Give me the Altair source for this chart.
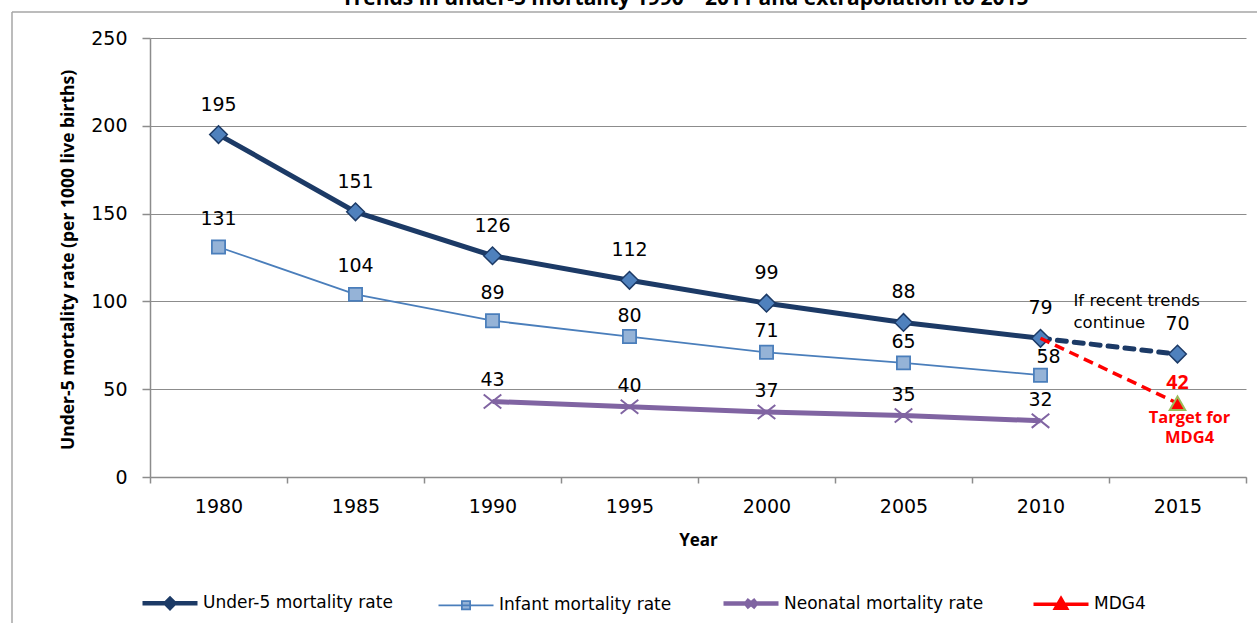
import altair as alt
import pandas as pd

# ---- values ----
years = ["1980", "1985", "1990", "1995", "2000", "2005", "2010", "2015"]

u5_years = ["1980", "1985", "1990", "1995", "2000", "2005", "2010"]
u5_rate = [195, 151, 126, 112, 99, 88, 79]

trend_years = ["2010", "2015"]
trend_rate = [79, 70]

inf_years = ["1980", "1985", "1990", "1995", "2000", "2005", "2010"]
inf_rate = [131, 104, 89, 80, 71, 65, 58]

neo_years = ["1990", "1995", "2000", "2005", "2010"]
neo_rate = [43, 40, 37, 35, 32]

mdg_years = ["2010", "2015"]
mdg_rate = [79, 42]

S_U5 = "Under-5 mortality rate"
S_INF = "Infant mortality rate"
S_NEO = "Neonatal mortality rate"
S_MDG = "MDG4"
series = [S_U5, S_INF, S_NEO, S_MDG]

title_text = "Trends in under-5 mortality 1990 \u2013 2011 and extrapolation to 2015"
y_title = "Under-5 mortality rate (per 1000 live births)"

# ---- tables ----
u5 = pd.DataFrame({"year": u5_years, "rate": u5_rate})
trend = pd.DataFrame({"year": trend_years, "rate": trend_rate})
inf = pd.DataFrame({"year": inf_years, "rate": inf_rate})
neo = pd.DataFrame({"year": neo_years, "rate": neo_rate})
mdg = pd.DataFrame({"year": mdg_years, "rate": mdg_rate})

u5_all = pd.concat([u5, trend.iloc[1:]], ignore_index=True)
mdg_target = mdg.iloc[1:]

# ---- styling ----
NAVY = "#1c3a66"
MID = "#4f81bd"
BLUE = "#4a7ebb"
LIGHT = "#95b3d7"
PURPLE = "#8064a2"
RED = "#ff0000"
GREEN = "#9bbb59"
GRID = "#8c8c8c"
FONT = "DejaVu Sans"
BOLD_FONT = "Open Sans"

W, H = 1096, 439

x_enc = alt.X(
    "year:O",
    bandPosition=0.5,
    scale=alt.Scale(type="band", domain=years, paddingInner=0, paddingOuter=0),
    axis=alt.Axis(
        title="Year", tickBand="extent", grid=False,
        domainColor=GRID, domainWidth=1.5, tickColor=GRID, tickWidth=1.5, tickSize=6,
        labelFont=FONT, labelFontSize=19, labelColor="black", labelPadding=14, labelAngle=0,
        titleFont=BOLD_FONT, titleFontSize=17, titleFontWeight="bold", titleColor="black",
        titleY=63, titleBaseline="middle",
    ),
)
y_enc = alt.Y(
    "rate:Q",
    scale=alt.Scale(domain=[0, 250], nice=False),
    axis=alt.Axis(
        title=y_title, values=[0, 50, 100, 150, 200, 250],
        grid=True, gridColor=GRID, gridWidth=1,
        domainColor=GRID, domainWidth=1.5, tickColor=GRID, tickWidth=1.5, tickSize=8,
        labelFont=FONT, labelFontSize=19, labelColor="black", labelPadding=15,
        titleFont=BOLD_FONT, titleFontSize=17.5, titleFontWeight="bold", titleColor="black",
        titleAngle=270, titleX=-82, titleY=H / 2 + 2, titleAlign="center", titleBaseline="middle",
    ),
)

# ---- lines ----
line_u5 = alt.Chart(u5).mark_line(color=NAVY, strokeWidth=5).encode(x=x_enc, y=y_enc)
line_trend = alt.Chart(trend).mark_line(
    color=NAVY, strokeWidth=5, strokeDash=[9, 8], strokeCap="round"
).encode(x=x_enc, y=y_enc)
line_inf = alt.Chart(inf).mark_line(color=BLUE, strokeWidth=1.75).encode(x=x_enc, y=y_enc)
line_neo = alt.Chart(neo).mark_line(color=PURPLE, strokeWidth=5).encode(x=x_enc, y=y_enc)
line_mdg = alt.Chart(mdg).mark_line(color=RED, strokeWidth=3.5, strokeDash=[10, 6]).encode(
    x=x_enc, y=y_enc
)

# ---- markers ----
DIAMOND = "M-1,0L0,-1L1,0L0,1Z"
SQUARE = "M-0.75,-0.75H0.75V0.75H-0.75Z"
XMARK = "M-1,-0.8L1,0.8M-1,0.8L1,-0.8"

pts_u5 = alt.Chart(u5_all).mark_point(
    shape=DIAMOND, filled=True, fill=MID, stroke=NAVY, strokeWidth=1.5, size=310, opacity=1
).encode(x=x_enc, y=y_enc)
pts_inf = alt.Chart(inf).mark_point(
    shape=SQUARE, filled=True, fill=LIGHT, stroke=BLUE, strokeWidth=1.75, size=310, opacity=1
).encode(x=x_enc, y=y_enc)
pts_neo = alt.Chart(neo).mark_point(
    shape=XMARK, filled=False, stroke=PURPLE, strokeWidth=2, size=310, opacity=1
).encode(x=x_enc, y=y_enc)
tri = alt.Chart(mdg_target).mark_point(
    shape="triangle-up", filled=True, fill=RED, stroke=GREEN, strokeWidth=2, size=240, opacity=1
).encode(x=x_enc, y=y_enc)

# ---- legend (line with marker for each series) ----
leg_u5 = "M-1,0H1M-0.16,0L0,-0.16L0.16,0L0,0.16Z"
leg_inf = "M-1,0H1M-0.15,-0.15H0.15V0.15H-0.15Z"
leg_neo = "M-1,0H1M-0.17,-0.14L0.17,0.14M-0.17,0.14L0.17,-0.14"
leg_mdg = "M-1,0H1M0,-0.2L0.2,0.15H-0.2Z"

legend = alt.Legend(
    title=None, orient="none", legendX=-10, legendY=535, direction="horizontal",
    columns=4, columnPadding=42, labelOffset=3, padding=0, labelLimit=0,
    symbolSize=3025, labelFont=FONT, labelFontSize=17, labelColor="black",
    symbolOpacity=1,
)

legend_keys = pd.DataFrame({"series": pd.Series([], dtype="object")})
legend_layer = alt.Chart(legend_keys).mark_point(filled=True, opacity=1).encode(
    fill=alt.Fill(
        "series:N",
        scale=alt.Scale(domain=series, range=[MID, LIGHT, "transparent", RED]),
        legend=legend,
    ),
    stroke=alt.Stroke(
        "series:N",
        scale=alt.Scale(domain=series, range=[NAVY, BLUE, PURPLE, RED]),
        legend=legend,
    ),
    shape=alt.Shape(
        "series:N",
        scale=alt.Scale(domain=series, range=[leg_u5, leg_inf, leg_neo, leg_mdg]),
        legend=legend,
    ),
    strokeWidth=alt.StrokeWidth(
        "series:N",
        scale=alt.Scale(type="ordinal", domain=series, range=[4.5, 1.75, 4.5, 3.5]),
        legend=legend,
    ),
)

# ---- value labels ----
def labels(df, dy, color="black", weight="normal", size=19, dx=0, font=FONT):
    return alt.Chart(df).mark_text(
        dy=dy, dx=dx, font=font, fontSize=size, color=color, fontWeight=weight,
        align="center", baseline="middle",
    ).encode(x=x_enc, y=y_enc, text=alt.Text("rate:Q"))


lab_u5 = labels(u5_all, -30)
lab_inf_a = labels(inf.iloc[:3], -28)
lab_inf_b = labels(inf.iloc[3:6], -21)
lab_inf_last = labels(inf.iloc[-1:], -18, dx=8)
lab_neo = labels(neo, -21)
lab_mdg = labels(mdg_target, -20, color=RED, weight="bold", size=19.5, font=BOLD_FONT)

note_trend = alt.Chart(trend.iloc[:1]).mark_text(
    text=["If recent trends", "continue"], align="left", baseline="top",
    dx=33, dy=-45, font=FONT, fontSize=16.5, lineHeight=22, color="black",
).encode(x=x_enc, y=y_enc)

note_target = alt.Chart(mdg_target).mark_text(
    text=["Target for", "MDG4"], align="center", baseline="top",
    dx=12, dy=7, font=BOLD_FONT, fontSize=16.5, fontWeight="bold", lineHeight=20, color=RED,
).encode(x=x_enc, y=y_enc)

# ---- page title and frame ----
one = pd.DataFrame({"t": [title_text]})
title_mark = alt.Chart(one).mark_text(
    font=BOLD_FONT, fontSize=21, fontWeight="bold", color="black",
    align="center", baseline="alphabetic",
).encode(text="t:N", x=alt.value(535), y=alt.value(-33))

frame_v = alt.Chart(one).mark_rule(color="#a6a6a6", strokeWidth=1.5).encode(
    x=alt.value(-138), y=alt.value(-26), y2=alt.value(600)
)
frame_h = alt.Chart(one).mark_rule(color="#a6a6a6", strokeWidth=1.5).encode(
    x=alt.value(-138), x2=alt.value(1120), y=alt.value(-26)
)

chart = alt.layer(
    frame_v, frame_h, title_mark,
    line_u5, line_trend, line_inf, line_neo,
    pts_u5, pts_inf, pts_neo, line_mdg, tri,
    lab_u5, lab_inf_a, lab_inf_b, lab_inf_last, lab_neo, lab_mdg,
    note_trend, note_target, legend_layer,
).properties(
    width=W, height=H,
    autosize=alt.AutoSizeParams(type="none"),
    padding={"left": 150, "top": 38, "right": 11, "bottom": 146},
    background="white",
).configure_view(fill="#f2f2f2", stroke=None)

chart.save("out.html", embed_options={"renderer": "svg", "actions": False})
